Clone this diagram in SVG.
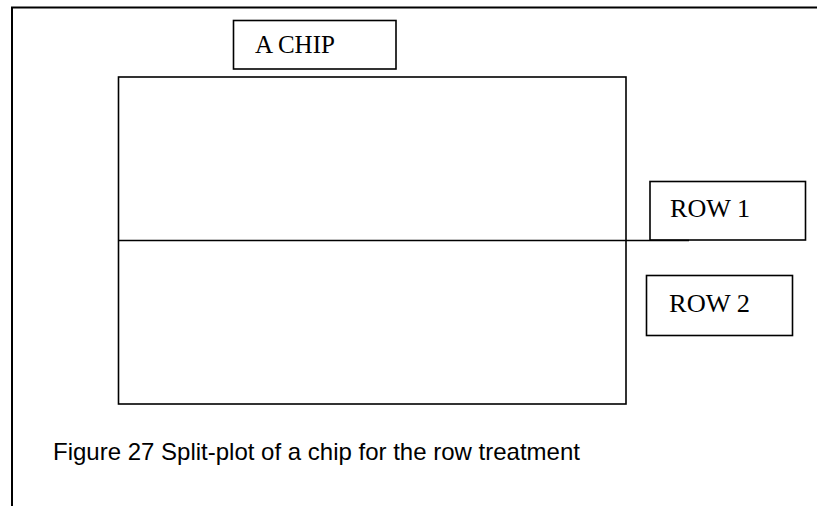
<svg xmlns="http://www.w3.org/2000/svg" width="817" height="506" viewBox="0 0 817 506">
<style>
.box{fill:none;stroke:#000;stroke-width:1.6}
.lbl{font-family:"Liberation Serif","Times New Roman",serif;font-size:25px;fill:#000}
.cap{font-family:"Liberation Sans",Arial,sans-serif;font-size:24px;fill:#000}
</style>
<rect x="0" y="0" width="817" height="506" fill="#fff"/>
<g id="frame"><path d="M12 520 V7.5 H830" fill="none" stroke="#000" stroke-width="2"/></g>
<g id="chip"><rect class="box" x="118.5" y="77" width="507.5" height="327"/></g>
<g id="chip-label"><rect class="box" x="233.5" y="20.5" width="162.5" height="48.5"/><text class="lbl" x="255" y="53">A CHIP</text></g>
<g id="row1"><rect class="box" x="650" y="181.5" width="155.5" height="58.5"/><text class="lbl" x="670" y="217" textLength="80" lengthAdjust="spacingAndGlyphs">ROW 1</text></g>
<g id="row2"><rect class="box" x="646.5" y="275.5" width="146" height="60"/><text class="lbl" x="669" y="312" textLength="81" lengthAdjust="spacingAndGlyphs">ROW 2</text></g>
<g id="connectors"><line x1="118.5" y1="240.5" x2="689" y2="240.5" stroke="#000" stroke-width="1.6"/></g>
<g id="caption"><text class="cap" x="53" y="460">Figure 27 Split-plot of a chip for the row treatment</text></g>
</svg>
